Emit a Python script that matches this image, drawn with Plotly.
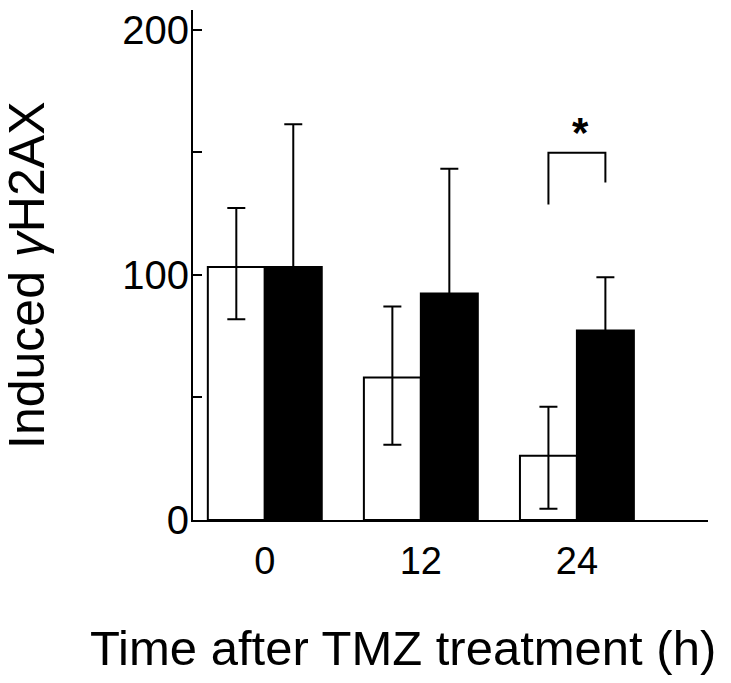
import plotly.graph_objects as go

# ---- data ----
categories = ["0", "12", "24"]
control_values = [103.2, 58.1, 26.2]
control_err_plus = [24.0, 29.0, 20.0]
control_err_minus = [21.3, 27.4, 21.6]
treated_values = [103.2, 92.4, 77.3]
treated_err = [58.2, 50.9, 21.7]
y_tickvals = [0, 50, 100, 150, 200]
y_ticktext = ["0", "", "100", "", "200"]
# significance bracket for 24 h group
sig_group = 2
sig_left_y = 128.7
sig_right_y = 137.6
sig_top_y = 149.8
sig_label = "<b>*</b>"
sig_label_y = 158

bar_w = 0.365
idx = list(range(len(categories)))
x_ctrl = [i - bar_w / 2 for i in idx]
x_trt = [i + bar_w / 2 for i in idx]

fig = go.Figure()
fig.add_trace(go.Bar(
    x=x_ctrl, y=control_values, width=bar_w,
    marker=dict(color="white", line=dict(color="black", width=2)),
    error_y=dict(type="data", symmetric=False, array=control_err_plus,
                 arrayminus=control_err_minus, color="black", thickness=2, width=9),
    showlegend=False,
))
fig.add_trace(go.Bar(
    x=x_trt, y=treated_values, width=bar_w,
    marker=dict(color="black", line=dict(color="black", width=2)),
    error_y=dict(type="data", symmetric=True, array=treated_err,
                 color="black", thickness=2, width=9),
    showlegend=False,
))
# bracket
bl = sig_group - bar_w / 2
br = sig_group + bar_w / 2
fig.add_trace(go.Scatter(
    x=[bl, bl, br, br], y=[sig_left_y, sig_top_y, sig_top_y, sig_right_y],
    mode="lines", line=dict(color="black", width=2), showlegend=False,
    hoverinfo="skip",
))

fig.add_annotation(x=sig_group + 0.02, y=sig_label_y, xref="x", yref="y",
                   text=sig_label, showarrow=False,
                   font=dict(size=42, color="black", family="Liberation Sans"),
                   yanchor="middle")

fig.update_layout(
    width=731, height=683,
    margin=dict(l=193, r=23, t=8, b=163),
    plot_bgcolor="white", paper_bgcolor="white",
    barmode="overlay",
    font=dict(family="Liberation Sans, Arial, sans-serif", color="black"),
    xaxis=dict(
        range=[-0.46, 2.84], tickvals=idx, ticktext=categories,
        showgrid=False, zeroline=False, showline=True, linecolor="black",
        linewidth=2, ticks="", tickfont=dict(size=38),
        ticklabelstandoff=6,
    ),
    yaxis=dict(
        range=[0, 208], tickvals=y_tickvals, ticktext=y_ticktext,
        showgrid=False, zeroline=False, showline=True, linecolor="black",
        linewidth=2, ticks="inside", ticklen=9, tickwidth=2, tickcolor="black",
        tickfont=dict(size=40), ticklabelstandoff=-6,
    ),
)

fig.add_annotation(x=403, y=648, text="Time after TMZ treatment (h)",
                   showarrow=False, font=dict(size=49))
fig.add_annotation(x=27, y=275, text="Induced <i>γ</i>H2AX", textangle=-90,
                   showarrow=False, font=dict(size=50))

# convert pixel-based annotation positions for titles to paper coords
plot_w = 731 - 193 - 23
plot_h = 683 - 8 - 163
anns = list(fig.layout.annotations)
for a in anns[1:]:
    px, py = a.x, a.y
    a.x = (px - 193) / plot_w
    a.y = (683 - 163 - py) / plot_h
    a.xref = "paper"
    a.yref = "paper"
    a.xanchor = "center"
    a.yanchor = "middle"
fig.layout.annotations = anns

fig.write_html("out.html", config={"displayModeBar": False},
               post_script="document.body.style.margin='0';")
